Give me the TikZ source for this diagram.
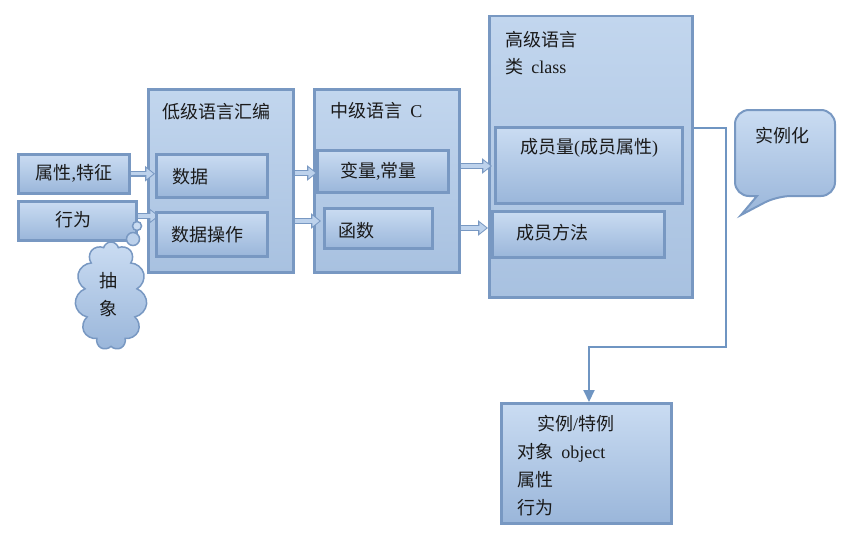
\documentclass[tikz,border=0pt]{standalone}
\usepackage{fontspec}
\setmainfont{Liberation Serif}
\newfontfamily\cjk{Noto Sans CJK SC}
\usetikzlibrary{arrows.meta,shapes.symbols}
\definecolor{edgeC}{HTML}{7898C2}
\definecolor{bigTop}{HTML}{C2D6EE}
\definecolor{bigBot}{HTML}{A8C1E0}
\definecolor{inTop}{HTML}{CADCF2}
\definecolor{inBot}{HTML}{9AB6DA}
\definecolor{lineC}{HTML}{6F95C2}
\definecolor{arrF}{HTML}{BDD2EC}
\definecolor{txt}{HTML}{1A1A1A}
\newcommand\latn[1]{{\rmfamily #1}}
\tikzset{
  bigbox/.style={draw=edgeC, line width=2.5pt, top color=bigTop, bottom color=bigBot, anchor=north west, inner sep=0pt},
  inbox/.style={draw=edgeC, line width=2.5pt, top color=inTop, bottom color=inBot, anchor=north west, inner sep=0pt},
  lbl/.style={font=\cjk\fontsize{18}{22}\selectfont, text=txt, inner sep=0pt, anchor=west},
  barrow/.style={line width=3.2pt, draw=arrF, -{Triangle[length=7pt,width=10.5pt]}, shorten >=1.6pt,
     preaction={draw=edgeC, line width=6pt, -{Triangle[length=10pt,width=15pt]}, shorten >=0pt}},
  conn/.style={draw=lineC, line width=2pt, -{Triangle[length=12pt,width=11pt]}}
}
\begin{document}
\begin{tikzpicture}[x=1pt,y=-1pt]
\useasboundingbox (0,0) rectangle (862,543);
\fill[white] (0,0) rectangle (862,543);

% big boxes
\node[bigbox, minimum width=145pt, minimum height=183pt] (low) at (147,88) {};
\node[bigbox, minimum width=145pt, minimum height=183pt] (mid) at (313,88) {};
\node[bigbox, minimum width=203pt, minimum height=281pt] (high) at (488,15) {};

% left boxes
\node[inbox, minimum width=111pt, minimum height=39pt] (attr) at (17,153) {};
\node[inbox, minimum width=118pt, minimum height=39pt] (beh) at (17,200) {};

% block arrows
\draw[barrow] (attr.east) -- (attr.east -| low.west) -- ++(8,0);
\draw[barrow] (beh.east |- 0,216) -- (low.west |- 0,216) -- ++(12,0);
\coordinate (ya) at (0,173);
\coordinate (yb) at (0,221);
\coordinate (yc) at (0,166);
\coordinate (yd) at (0,228);
\draw[barrow] (low.east |- ya) -- (mid.west |- ya) -- ++(4,0);
\draw[barrow] (low.east |- yb) -- (mid.west |- yb) -- ++(8,0);
\draw[barrow] (mid.east |- yc) -- (high.west |- yc) -- ++(4,0);
\draw[barrow] (mid.east |- yd) -- (high.west |- yd);

% inner boxes
\node[inbox, minimum width=111pt, minimum height=43pt] (data) at (155,153) {};
\node[inbox, minimum width=111pt, minimum height=44pt] (dop) at (155,211) {};
\node[inbox, minimum width=131pt, minimum height=42pt] (var) at (316,149) {};
\node[inbox, minimum width=108pt, minimum height=40pt] (func) at (323,207) {};
\node[inbox, minimum width=187pt, minimum height=76pt] (mem) at (494,126) {};
\node[inbox, minimum width=172pt, minimum height=46pt] (meth) at (491,210) {};
\node[inbox, minimum width=170pt, minimum height=120pt] (inst) at (500,402) {};

% cloud
\node[cloud, cloud puffs=11, aspect=0.66, draw=edgeC, line width=1.5pt, top color=inTop, bottom color=inBot,
      minimum width=72pt, minimum height=108pt, inner sep=0pt] (cloudn) at (111,296) {};
\node[circle, draw=edgeC, line width=1.5pt, fill=inTop!70!inBot, minimum size=13pt, inner sep=0pt] (cb1) at (133,239) {};
\node[circle, draw=edgeC, line width=1.5pt, fill=inTop, minimum size=9pt, inner sep=0pt] (cb2) at (137,226) {};
\node[lbl, anchor=center, align=center, font=\cjk\fontsize{18}{28}\selectfont] (chx) at (108,295) {抽\\象};

% callout
\path[draw=edgeC, line width=2pt, top color=inTop, bottom color=inBot, rounded corners=14pt]
  (785,110) -- (835,110) -- (835,196) -- (777,196) [sharp corners] -- (741,215) -- (757,196) [rounded corners=14pt] -- (735,196) -- (735,110) -- cycle;
\node[lbl, anchor=center] (slh) at (782,136) {实例化};

% connector to instance
\coordinate (c1) at (726,128);
\coordinate (c2) at (726,347);
\coordinate (c3) at (589,347);
\draw[conn] (high.east |- c1) -- (c1) -- (c2) -- (c3) -- (c3 |- inst.north);

% labels
\node[lbl, anchor=center] (tattr) at (attr.center) {属性\latn{,}特征};
\node[lbl, anchor=center] (tbeh) at (73,220) {行为};
\node[lbl] (tlow) at (162,112) {低级语言汇编};
\node[lbl] (tdata) at (172,177) {数据};
\node[lbl] (tdop) at (171,235) {数据操作};
\node[lbl] (tmid) at (330,111) {中级语言\ \ \latn{C}};
\node[lbl] (tvar) at (340,171) {变量\latn{,}常量};
\node[lbl] (tfunc) at (338,231) {函数};
\node[lbl] (thigh) at (505,40) {高级语言};
\node[lbl] (tclass) at (505,67) {类\ \ \latn{class}};
\node[lbl] (tmem) at (520,148) {成员量\latn{(}成员属性\latn{)}};
\node[lbl] (tmeth) at (516,233) {成员方法};
\node[lbl] (ti1) at (537,424) {实例\latn{/}特例};
\node[lbl] (ti2) at (517,453) {对象\ \ \latn{object}};
\node[lbl] (ti3) at (517,480) {属性};
\node[lbl] (ti4) at (517,508) {行为};
\end{tikzpicture}
\end{document}
